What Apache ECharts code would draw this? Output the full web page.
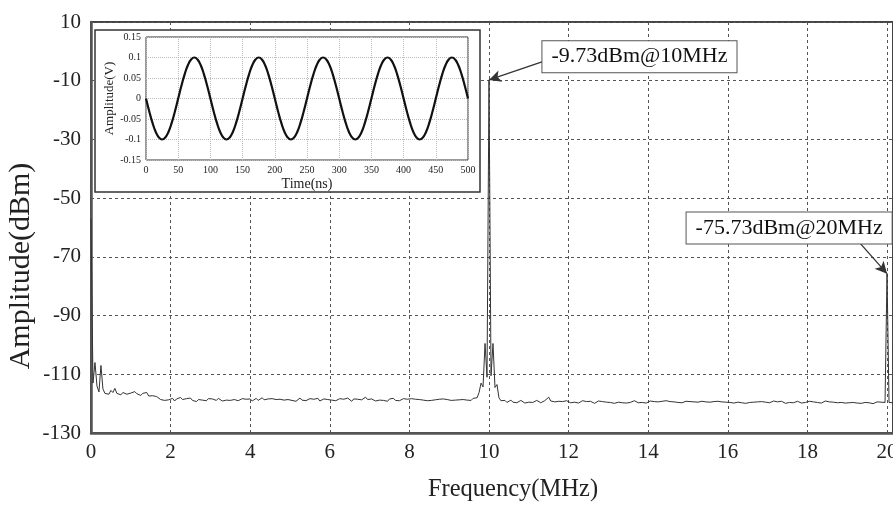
<!DOCTYPE html>
<html>
<head>
<meta charset="utf-8">
<script src="https://cdn.jsdelivr.net/npm/echarts@6/dist/echarts.min.js"></script>
<style>
  html, body { margin: 0; padding: 0; background: #fff; }
  #chart { width: 893px; height: 505px; }
</style>
</head>
<body>
<div id="chart"></div>
<script>
// ---- Spectrum: one reading per 0.05 MHz bin, starting at 0 MHz ----
const spectrumStartMHz = 0;
const spectrumStepMHz = 0.05;
const spectrumDbm = [
  -57,-113,-106,-114,-116,-107,-115,-116.5,-116,-116.8,-115.5,-116.2,-114.8,-116.5,-116,-117,-116.2,-115.6,-116.8,-116.3,
  -116.4,-117,-115.9,-116.6,-116.1,-117.2,-116.5,-116.9,-116.2,-117.4,-116.8,-117.3,-116.7,-117.6,-118.2,-118.6,-118.1,-118.9,-118.3,-118.7,
  -118.9,-118.2,-119.1,-118.4,-118.8,-117.9,-118.6,-119.2,-118.3,-118.7,-118.1,-118.9,-118.4,-119.3,-118.6,-118.2,-118.8,-118.5,-119.0,-118.3,
  -118.7,-118.4,-117.8,-118.9,-118.2,-118.6,-119.1,-118.5,-118.8,-118.3,-118.9,-119.2,-118.6,-118.4,-119.0,-118.7,-118.3,-118.9,-118.5,-118.8,
  -118.4,-119.1,-118.6,-118.2,-118.9,-118.5,-118.0,-118.7,-119.2,-118.4,-118.8,-118.3,-118.9,-118.6,-119.0,-118.5,-118.2,-118.8,-119.1,-118.6,
  -118.3,-118.9,-118.5,-119.2,-118.7,-118.1,-118.8,-118.4,-119.0,-118.6,-118.3,-118.9,-118.5,-118.8,-118.2,-119.1,-118.7,-118.4,-118.9,-118.6,
  -118.5,-118.8,-118.2,-119.0,-118.6,-118.3,-118.9,-118.5,-118.8,-118.1,-118.7,-119.2,-118.4,-118.8,-118.5,-118.0,-118.7,-118.3,-117.8,-118.6,
  -118.9,-118.4,-118.7,-119.1,-118.5,-118.8,-118.3,-118.9,-118.6,-119.2,-118.4,-118.7,-118.2,-118.9,-118.5,-119.0,-118.6,-118.3,-118.8,-118.5,
  -118.7,-118.3,-118.9,-118.5,-119.1,-118.6,-118.2,-118.8,-118.4,-119.0,-118.6,-118.9,-118.3,-118.7,-119.2,-118.5,-118.8,-118.4,-119.0,-118.6,
  -118.4,-118.9,-118.5,-118.8,-118.2,-118.7,-119.1,-118.6,-118.3,-118.8,-118.5,-118.9,-118.2,-118.6,-118.0,-116.2,-113.0,-114.3,-99.5,-111.0,
  -9.73,-110.5,-99.5,-114.5,-113.5,-118.0,-119.0,-119.4,-118.9,-119.6,-119.2,-118.8,-119.5,-119.1,-119.7,-119.3,-118.9,-119.4,-119.8,-119.2,
  -119.5,-119.0,-119.6,-119.3,-118.9,-119.4,-119.7,-119.2,-119.0,-118.6,-117.8,-119.1,-118.7,-119.4,-119.6,-119.2,-119.8,-119.3,-119.5,-119.0,
  -119.4,-119.7,-119.1,-119.5,-119.2,-119.8,-119.4,-119.0,-119.6,-119.3,-119.7,-119.2,-119.5,-119.9,-119.4,-119.1,-119.6,-119.3,-119.8,-119.5,
  -119.2,-119.6,-119.4,-119.9,-119.3,-119.5,-119.1,-119.7,-119.4,-119.8,-119.2,-119.6,-119.3,-119.0,-119.5,-119.7,-119.2,-119.6,-119.4,-119.8,
  -119.5,-119.1,-119.6,-119.3,-118.8,-119.4,-119.7,-119.2,-119.5,-119.0,-119.6,-119.3,-119.8,-119.4,-119.1,-119.6,-119.3,-119.7,-119.5,-119.2,
  -119.6,-119.3,-119.8,-119.4,-119.1,-119.5,-119.7,-119.2,-119.6,-119.4,-119.0,-119.5,-119.8,-119.3,-119.6,-119.2,-119.7,-119.4,-119.9,-119.5,
  -119.2,-119.6,-119.4,-119.8,-119.3,-119.5,-119.1,-119.7,-119.4,-119.9,-119.3,-119.6,-119.2,-119.5,-119.8,-119.4,-119.7,-119.3,-119.6,-119.5,
  -119.3,-119.7,-119.5,-119.1,-119.6,-119.4,-119.8,-119.2,-119.5,-119.9,-119.4,-119.6,-119.3,-119.7,-119.5,-119.2,-119.6,-119.8,-119.4,-119.6,
  -119.5,-119.2,-119.7,-119.4,-119.0,-119.6,-119.3,-119.8,-119.5,-119.1,-119.6,-119.4,-119.9,-119.5,-119.2,-119.7,-119.4,-119.6,-119.3,-119.8,
  -119.4,-119.7,-119.3,-119.6,-119.2,-119.8,-119.5,-119.9,-119.4,-119.6,-119.3,-119.7,-119.5,-120.0,-119.6,-119.4,-119.8,-119.5,-119.7,-119.6,
  -75.73,-119.6,-119.3,-119.7
];

// Annotated tones
const markerFreqMHz = [10, 20];
const markerDbm = [-9.73, -75.73];

// ---- Time-domain capture: one reading per 5 ns, starting at 0 ns ----
const waveStartNs = 0;
const waveStepNs = 5;
const waveVolts = [
  0,-0.031,-0.059,-0.081,-0.095,-0.1,-0.095,-0.081,-0.059,-0.031,0,0.031,0.059,0.081,0.095,0.1,0.095,0.081,0.059,0.031,
  0,-0.031,-0.059,-0.081,-0.095,-0.1,-0.095,-0.081,-0.059,-0.031,0,0.031,0.059,0.081,0.095,0.1,0.095,0.081,0.059,0.031,
  0,-0.031,-0.059,-0.081,-0.095,-0.1,-0.095,-0.081,-0.059,-0.031,0,0.031,0.059,0.081,0.095,0.1,0.095,0.081,0.059,0.031,
  0,-0.031,-0.059,-0.081,-0.095,-0.1,-0.095,-0.081,-0.059,-0.031,0,0.031,0.059,0.081,0.095,0.1,0.095,0.081,0.059,0.031,
  0,-0.031,-0.059,-0.081,-0.095,-0.1,-0.095,-0.081,-0.059,-0.031,0,0.031,0.059,0.081,0.095,0.1,0.095,0.081,0.059,0.031,
  0
];

// ---- build series data ----
const spectrum = spectrumDbm.map((v, i) => [+(spectrumStartMHz + i * spectrumStepMHz).toFixed(2), v]);
markerFreqMHz.forEach((f, k) => {
  const idx = Math.round((f - spectrumStartMHz) / spectrumStepMHz);
  spectrum[idx] = [f, markerDbm[k]];
});
const wave = waveVolts.map((v, i) => [waveStartNs + i * waveStepNs, v]);
const markerText = k => `${markerDbm[k]}dBm@${markerFreqMHz[k]}MHz`;

const SERIF = '"Liberation Serif", "Times New Roman", serif';
const INK = '#222';

const chart = echarts.init(document.getElementById('chart'), null, { renderer: 'canvas' });

const boxLabel = {
  show: true,
  position: 'inside',
  fontFamily: SERIF,
  fontSize: 22,
  color: '#111',
  backgroundColor: '#fff',
  borderColor: '#555',
  borderWidth: 1,
  padding: [5, 9, 4, 9]
};

chart.setOption({
  animation: false,
  backgroundColor: '#fff',
  grid: [
    { left: 91, top: 22, right: 0, bottom: 72, outerBoundsMode: 'none', containLabel: false,
      show: true, borderColor: '#444', borderWidth: 2, backgroundColor: 'transparent', z: 0 },
    { left: 146, top: 37, width: 322, height: 123, outerBoundsMode: 'none', containLabel: false,
      show: true, borderColor: '#333', borderWidth: 1, backgroundColor: '#fff', z: 6 }
  ],
  graphic: [
    {
      // frame behind the time-domain inset
      type: 'rect', z: 5,
      shape: { x: 95, y: 30, width: 385, height: 162 },
      style: { fill: '#fff', stroke: '#333', lineWidth: 1.5 }
    },
    {
      // vertical title of the spectrum's amplitude axis
      type: 'text', z: 5,
      x: 21, y: 266, rotation: Math.PI / 2,
      style: {
        text: 'Amplitude(dBm)', fill: INK,
        font: '30px "Liberation Serif", "Times New Roman", serif',
        textAlign: 'center', textVerticalAlign: 'middle'
      }
    }
  ],
  xAxis: [
    {
      gridIndex: 0, type: 'value', min: 0, max: 20.15, interval: 2,
      name: 'Frequency(MHz)', nameLocation: 'middle', nameGap: 44,
      nameTextStyle: { fontFamily: SERIF, fontSize: 24.5, color: INK, padding: [0, 0, 0, 42] },
      axisLine: { show: true, onZero: false, lineStyle: { color: '#555', width: 2.5 } },
      axisTick: { show: false },
      axisLabel: { fontFamily: SERIF, fontSize: 21, color: INK, margin: 9 },
      splitLine: { show: true, lineStyle: { color: '#555', type: [3, 3], width: 1 } }
    },
    {
      gridIndex: 1, type: 'value', min: 0, max: 500, interval: 50, z: 7,
      name: 'Time(ns)', nameLocation: 'middle', nameGap: 17,
      nameTextStyle: { fontFamily: SERIF, fontSize: 14, color: INK },
      axisLine: { show: false, onZero: false },
      axisTick: { show: false },
      axisLabel: { fontFamily: SERIF, fontSize: 10, color: INK, margin: 5 },
      splitLine: { show: true, lineStyle: { color: '#bbb', type: 'dotted', width: 1 } }
    }
  ],
  yAxis: [
    {
      gridIndex: 0, type: 'value', min: -130, max: 10, interval: 20,
      axisLine: { show: true, onZero: false, lineStyle: { color: '#555', width: 2.5 } },
      axisTick: { show: false },
      axisLabel: { fontFamily: SERIF, fontSize: 21, color: INK, margin: 10 },
      splitLine: { show: true, lineStyle: { color: '#555', type: [3, 3], width: 1 } }
    },
    {
      gridIndex: 1, type: 'value', min: -0.15, max: 0.15, interval: 0.05, z: 7,
      name: 'Amplitude(V)', nameLocation: 'middle', nameGap: 30, nameRotate: 90,
      nameTextStyle: { fontFamily: SERIF, fontSize: 13, color: INK },
      axisLine: { show: false, onZero: false },
      axisTick: { show: false },
      axisLabel: { fontFamily: SERIF, fontSize: 10, color: INK, margin: 5 },
      splitLine: { show: true, lineStyle: { color: '#bbb', type: 'dotted', width: 1 } }
    }
  ],
  series: [
    {
      type: 'line', xAxisIndex: 0, yAxisIndex: 0, z: 2,
      data: spectrum, showSymbol: false, symbol: 'none',
      lineStyle: { color: '#333', width: 1 },
      markLine: {
        silent: true, symbol: ['none', 'arrow'], symbolSize: [9, 12],
        lineStyle: { color: '#333', width: 1.3, type: 'solid' },
        label: { show: false },
        data: [
          [{ coord: [11.33, -3.6] }, { coord: [markerFreqMHz[0], markerDbm[0]] }],
          [{ coord: [19.32, -65.3] }, { coord: [markerFreqMHz[1], markerDbm[1]] }]
        ]
      },
      markPoint: {
        silent: true, symbol: 'rect', symbolSize: 1,
        itemStyle: { color: 'rgba(0,0,0,0)' },
        data: [
          { coord: [13.78, -1.8], label: Object.assign({}, boxLabel, { formatter: markerText(0) }) },
          { coord: [17.54, -60.2], label: Object.assign({}, boxLabel, { formatter: markerText(1) }) }
        ]
      }
    },
    {
      type: 'line', xAxisIndex: 1, yAxisIndex: 1, z: 8,
      data: wave, showSymbol: false, symbol: 'none', smooth: true,
      lineStyle: { color: '#111', width: 2.2 }
    }
  ]
});
</script>
</body>
</html>
